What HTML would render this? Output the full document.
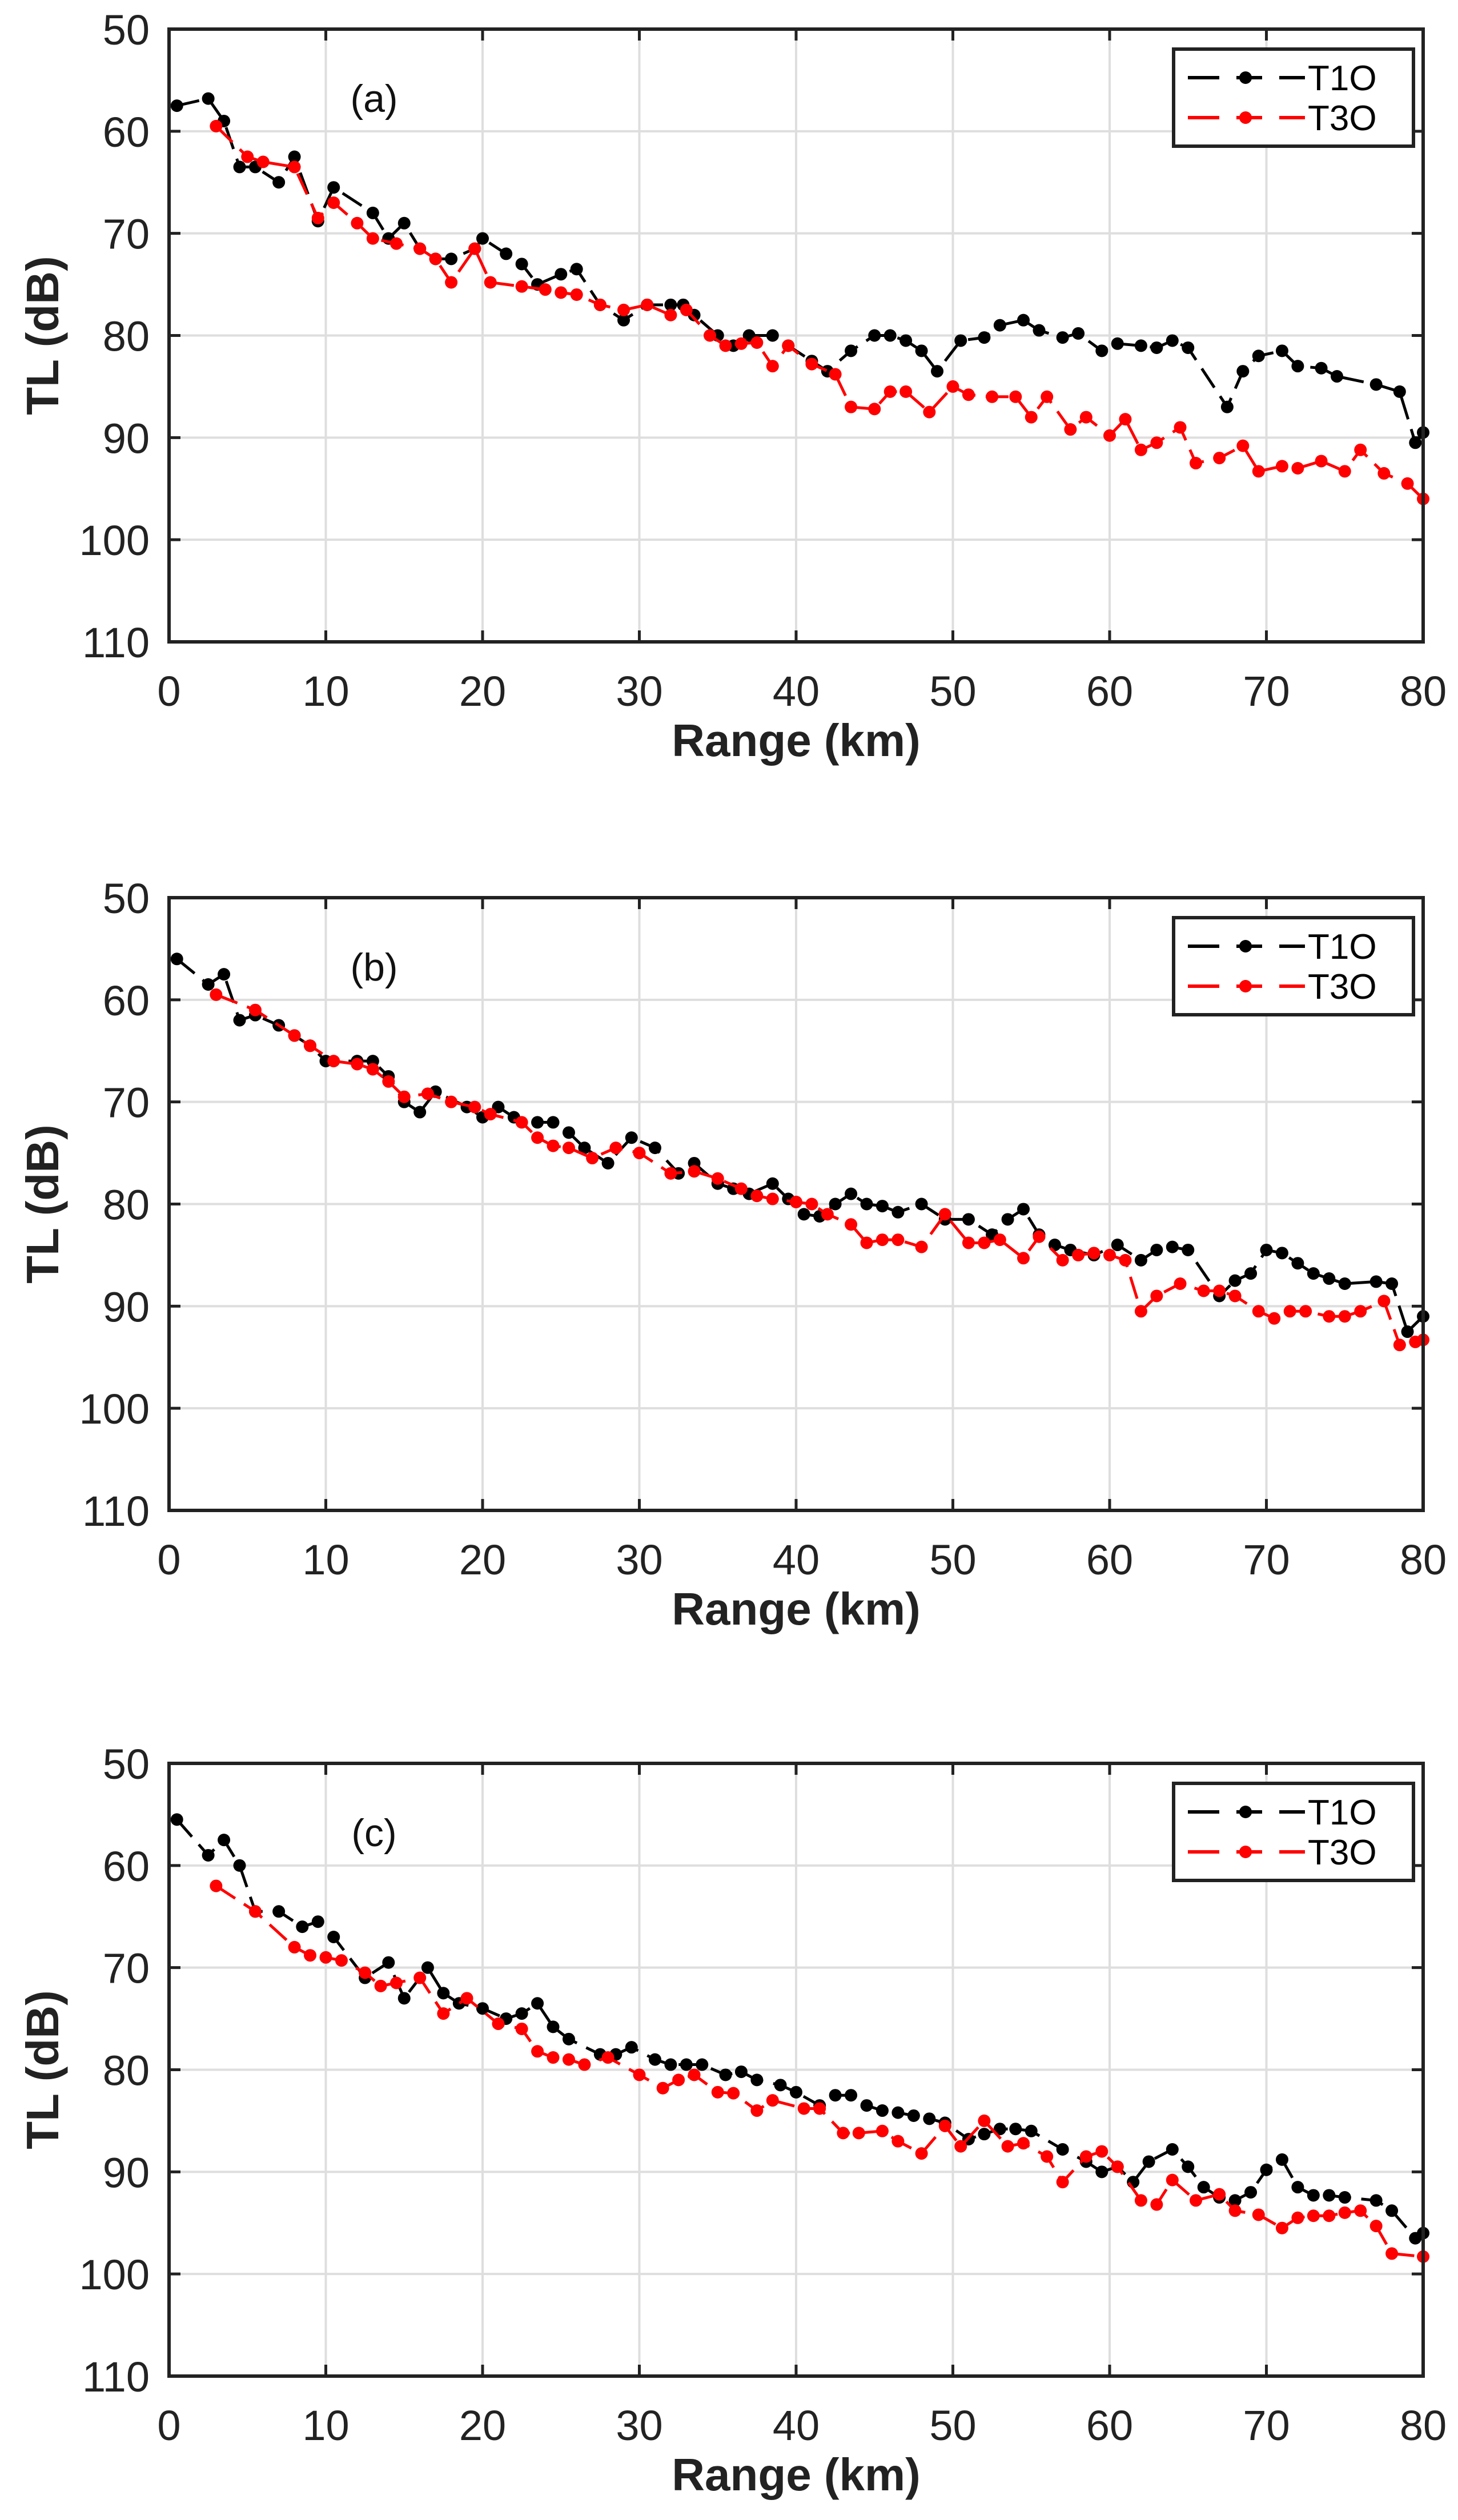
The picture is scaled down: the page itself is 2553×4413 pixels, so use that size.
<!DOCTYPE html>
<html><head><meta charset="utf-8"><style>body{margin:0;background:#fff}svg{display:block}</style></head>
<body>
<svg id="fig" width="2553" height="4413" xmlns="http://www.w3.org/2000/svg" font-family="Liberation Sans, sans-serif"></svg>
<script>
const xTicks=[0,10,20,30,40,50,60,70,80];
const yTicks=[50,60,70,80,90,100,110];
const panelLabels=["(a)","(b)","(c)"];
const seriesNames=["T1O","T3O"];
const aBlackX=[0.5,2.5,3.5,4.5,5.5,7,8,9.5,10.5,13,14,15,16,17,18,19.5,20,21.5,22.5,23.5,25,26,27.5,29,30.5,32,32.8,33.5,35,36,37,38.5,39.5,41,42,43.5,45,46,47,48,49,50.5,52,53,54.5,55.5,57,58,59.5,60.5,62,63,64,65,67.5,68.5,69.5,71,72,73.5,74.5,77,78.5,79.5,80];
const aBlackY=[57.5,56.8,59,63.5,63.5,65,62.5,68.8,65.5,68,70.5,69,71.5,72.5,72.5,71.5,70.5,72,73,75,74,73.5,77,78.5,77,77,77,78,80,81,80,80,81,82.5,83.5,81.5,80,80,80.5,81.5,83.5,80.5,80.2,79,78.5,79.5,80.2,79.8,81.5,80.8,81,81.2,80.5,81.2,87,83.5,82,81.5,83,83.2,84,84.8,85.5,90.5,89.5];
const aRedX=[3,5,6,8,9.5,10.5,12,13,14.5,16,17,18,19.5,20.5,22.5,24,25,26,27.5,29,30.5,32,33,34.5,35.5,36.5,37.5,38.5,39.5,41,42.5,43.5,45,46,47,48.5,50,51,52.5,54,55,56,57.5,58.5,60,61,62,63,64.5,65.5,67,68.5,69.5,71,72,73.5,75,76,77.5,79,80];
const aRedY=[59.5,62.5,63,63.5,68.5,67,69,70.5,71,71.5,72.5,74.8,71.5,74.8,75.2,75.5,75.8,76,77,77.5,77,78,77.5,80,81,80.8,80.7,83,81,82.8,83.8,87,87.2,85.5,85.5,87.5,85,85.8,86,86,88,86,89.2,88,89.8,88.2,91.2,90.5,89,92.5,92,90.8,93.3,92.8,93,92.3,93.3,91.2,93.5,94.5,96];
const bBlackX=[0.5,2.5,3.5,4.5,5.5,7,8,9,10,12,13,14,15,16,17,19,20,21,22,23.5,24.5,25.5,26.5,28,29.5,31,32.5,33.5,35,36,37,38.5,39.5,40.5,41.5,42.5,43.5,44.5,45.5,46.5,48,49.5,51,52.5,53.5,54.5,55.5,56.5,57.5,59,60.5,62,63,64,65,67,68,69,70,71,72,73,74,75,77,78,79,80];
const bBlackY=[56,58.5,57.5,62,61.5,62.5,63.5,64.5,66,66,66,67.5,70,71,69,70.5,71.5,70.5,71.5,72,72,73,74.5,76,73.5,74.5,77,76,78,78.5,79,78,79.5,81,81.2,80,79,80,80.2,80.8,80,81.5,81.5,83,81.5,80.5,83,84,84.5,85,84,85.5,84.5,84.2,84.5,89,87.5,86.8,84.5,84.8,85.8,86.8,87.3,87.8,87.6,87.8,92.5,91];
const bRedX=[3,5.5,8,9,10.5,12,13,14,15,16.5,18,19.5,20.5,22.5,23.5,24.5,25.5,27,28.5,30,32,33.5,35,36.5,37.5,38.5,40,41,42,43.5,44.5,45.5,46.5,48,49.5,51,52,53,54.5,55.5,57,58,59,60,61,62,63,64.5,66,67,68,69.5,70.5,71.5,72.5,74,75,76,77.5,78.5,79.5,80];
const bRedY=[59.5,61,63.5,64.5,66,66.3,66.8,68,69.5,69.2,70,70.5,71.2,72,73.5,74.3,74.5,75.5,74.5,75,77,76.8,77.5,78.5,79.2,79.5,79.8,80,81,82,83.8,83.5,83.5,84.2,81,83.8,83.8,83.5,85.3,83.2,85.5,85,84.8,85,85.5,90.5,89,87.8,88.5,88.5,89,90.5,91.2,90.5,90.5,91,91,90.5,89.5,93.8,93.5,93.3];
const cBlackX=[0.5,2.5,3.5,4.5,5.5,7,8.5,9.5,10.5,12.5,14,15,16.5,17.5,18.5,20,21.5,22.5,23.5,24.5,25.5,27.5,28.5,29.5,31,32,33,34,35.5,36.5,37.5,39,40,41.5,42.5,43.5,44.5,45.5,46.5,47.5,48.5,49.5,51,52,53,54,55,57,58.5,59.5,60.5,61.5,62.5,64,65,66,67,68,69,70,71,72,73,74,75,77,78,79.5,80];
const cBlackY=[55.5,59,57.5,60,64.5,64.5,66,65.5,67,71,69.5,73,70,72.5,73.5,74,75,74.5,73.5,75.8,77,78.5,78.5,77.8,79,79.5,79.5,79.5,80.5,80.2,81,81.5,82.2,83.5,82.5,82.5,83.5,84,84.2,84.5,84.8,85.2,86.8,86.3,85.8,85.8,86,87.8,89,90,89.5,91,89,87.8,89.5,91.5,92.5,92.8,92,89.8,88.8,91.5,92.3,92.3,92.5,92.8,93.8,96.5,96];
const cRedX=[3,5.5,8,9,10,11,12.5,13.5,14.5,16,17.5,19,21,22.5,23.5,24.5,25.5,26.5,28,30,31.5,32.5,33.5,35,36,37.5,38.5,40.5,41.5,43,44,45.5,46.5,48,49.5,50.5,52,53.5,54.5,56,57,58.5,59.5,60.5,62,63,64,65.5,67,68,69.5,71,72,73,74,75,76,77,78,80];
const cRedY=[62,64.5,68,68.8,69,69.3,70.5,71.8,71.5,71,74.5,73,75.5,76,78.2,78.8,79,79.5,78.8,80.5,81.8,81,80.5,82.2,82.3,84,83,83.8,83.8,86.2,86.2,86,87,88.2,85.5,87.5,85,87.5,87.2,88.5,91,88.5,88,89.5,92.8,93.2,90.8,92.8,92.2,93.8,94.2,95.5,94.5,94.3,94.3,94,93.8,95.3,98,98.3];

const svg=document.getElementById('fig');
const NS="http://www.w3.org/2000/svg";
function el(tag,attrs,parent){const e=document.createElementNS(NS,tag);for(const k in attrs)e.setAttribute(k,attrs[k]);(parent||svg).appendChild(e);return e;}
const L=296,R=2492,H=1073;
const tops=[51,1572,3088];
const panels=[[aBlackX,aBlackY,aRedX,aRedY],[bBlackX,bBlackY,bRedX,bRedY],[cBlackX,cBlackY,cRedX,cRedY]];
panels.forEach((p,i)=>{
  const T=tops[i],B=T+H;
  const sx=v=>L+(v-0)/80*(R-L);
  const sy=v=>T+(v-50)/60*H;
  const g=el('g',{});
  
  
  xTicks.forEach(t=>{
    const gl=el('line',{x1:sx(t),x2:sx(t),y1:T,y2:B,stroke:'#dedede','stroke-width':4},g);
    
    
    el('line',{x1:sx(t),x2:sx(t),y1:B,y2:B-20,stroke:'#222','stroke-width':5},g);
    el('line',{x1:sx(t),x2:sx(t),y1:T,y2:T+20,stroke:'#222','stroke-width':5},g);
    const tx=el('text',{x:sx(t),y:B+112,'font-size':74,'text-anchor':'middle',fill:'#222'},g);
    tx.textContent=t;
    
    
  });
  yTicks.forEach(t=>{
    const gl=el('line',{x1:L,x2:R,y1:sy(t),y2:sy(t),stroke:'#dedede','stroke-width':4},g);
    
    
    el('line',{x1:L,x2:L+20,y1:sy(t),y2:sy(t),stroke:'#222','stroke-width':5},g);
    el('line',{x1:R,x2:R-20,y1:sy(t),y2:sy(t),stroke:'#222','stroke-width':5},g);
    const tx=el('text',{x:262,y:sy(t)+27,'font-size':74,'text-anchor':'end',fill:'#222'},g);
    tx.textContent=t;
    
    
  });
  const series=[[p[0],p[1],'#000'],[p[2],p[3],'#ff0000']];
  series.forEach((s,j)=>{
    const pts=s[0].map((x,k)=>sx(x)+','+sy(s[1][k])).join(' ');
    const pl=el('polyline',{points:pts,fill:'none',stroke:s[2],'stroke-width':5,'stroke-dasharray':'40,18'},g);
    
    
    s[0].forEach((x,k)=>{
      const c=el('circle',{cx:sx(x),cy:sy(s[1][k]),r:11,fill:s[2]},g);
      
      
    });
  });
  const fr=el('rect',{x:L,y:T,width:R-L,height:H,fill:'none',stroke:'#222','stroke-width':6},g);
  
  
  const pl=el('text',{x:655,y:T+145,'font-size':68,'text-anchor':'middle',fill:'#111'},g);
  pl.textContent=panelLabels[i];
  
  
  const xl=el('text',{x:(L+R)/2,y:B+200,'font-size':80,'font-weight':'bold','text-anchor':'middle',fill:'#222'},g);
  xl.textContent='Range (km)';
  
  
  const yl=el('text',{x:0,y:0,'font-size':80,'font-weight':'bold','text-anchor':'middle',fill:'#222',transform:'translate(102,'+(T+H/2)+') rotate(-90)'},g);
  yl.textContent='TL (dB)';
  
  
  const lg=el('g',{},g);
  
  
  el('rect',{x:2055,y:T+35,width:420,height:170,fill:'#fff',stroke:'#222','stroke-width':6},lg);
  seriesNames.forEach((n,j)=>{
    const yy=T+85+j*70, col=j?'#ff0000':'#000';
    const e=el('g',{},lg);
    
    
    el('line',{x1:2080,x2:2135,y1:yy,y2:yy,stroke:col,'stroke-width':6},e);
    el('line',{x1:2165,x2:2210,y1:yy,y2:yy,stroke:col,'stroke-width':6},e);
    el('line',{x1:2240,x2:2285,y1:yy,y2:yy,stroke:col,'stroke-width':6},e);
    el('circle',{cx:2181,cy:yy,r:11,fill:col},e);
    const t=el('text',{x:2290,y:yy+22,'font-size':62,fill:'#000'},e);
    t.textContent=n;
  });
});
</script>
</body></html>
